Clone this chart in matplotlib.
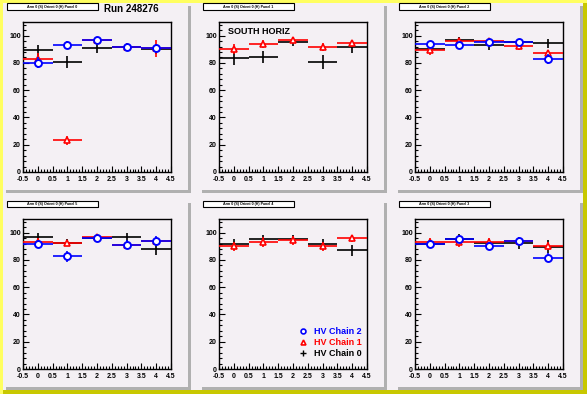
import matplotlib
matplotlib.use("Agg")
import matplotlib.pyplot as plt
from matplotlib.patches import Rectangle
from matplotlib.lines import Line2D
from matplotlib.ticker import MultipleLocator, FormatStrFormatter

plt.rcParams['font.family'] = ['Liberation Sans', 'DejaVu Sans']

# ---------------- data ----------------
bins = [0, 1, 2, 3, 4]
half_width = 0.5

panel_titles = ["Arm 0 (S) Orient 0 (H) Panel 0", "Arm 0 (S) Orient 0 (H) Panel 1",
                "Arm 0 (S) Orient 0 (H) Panel 2", "Arm 0 (S) Orient 0 (H) Panel 5",
                "Arm 0 (S) Orient 0 (H) Panel 4", "Arm 0 (S) Orient 0 (H) Panel 3"]

series_labels = ["HV Chain 0", "HV Chain 1", "HV Chain 2"]

# Panel 0
p0_ch0 = [89.3, 80.6, 90.8, 91.5, 90.1]
p0_err0 = [4.0, 4.5, 3.5, 3.0, 3.5]
p0_ch1 = [82.8, 23.2, 96.6, 91.5, 90.6]
p0_err1 = [4.5, 3.5, 1.5, 2.0, 6.0]
p0_ch2 = [80.1, 93.0, 96.6, 91.5, 90.6]
p0_err2 = [4.0, 3.0, 1.5, 2.0, 3.0]

# Panel 1
p1_ch0 = [83.5, 84.3, 95.2, 80.6, 91.5]
p1_err0 = [5.0, 4.5, 2.5, 5.0, 4.0]
p1_ch1 = [90.1, 93.7, 96.6, 91.5, 94.4]
p1_err1 = [3.5, 3.0, 2.0, 3.0, 2.5]

# Panel 2
p2_ch0 = [90.5, 96.6, 92.9, 95.1, 94.4]
p2_err0 = [2.5, 2.5, 3.5, 2.5, 3.5]
p2_ch1 = [89.3, 95.9, 95.9, 92.2, 87.1]
p2_err1 = [3.5, 2.5, 2.5, 3.0, 2.5]
p2_ch2 = [93.9, 92.9, 95.1, 95.1, 82.7]
p2_err2 = [2.5, 2.5, 2.5, 2.5, 3.5]

# Panel 5
p5_ch0 = [96.6, 92.7, 96.1, 96.6, 87.9]
p5_err0 = [3.0, 2.5, 2.0, 3.0, 4.0]
p5_ch1 = [93.0, 92.3, 96.6, 90.6, 93.7]
p5_err1 = [3.0, 2.0, 2.0, 2.5, 3.0]
p5_ch2 = [91.5, 82.8, 95.9, 91.3, 93.7]
p5_err2 = [3.0, 4.0, 2.0, 3.0, 3.5]

# Panel 4
p4_ch0 = [92.0, 95.6, 95.6, 92.0, 87.1]
p4_err0 = [3.5, 3.0, 3.0, 3.5, 4.0]
p4_ch1 = [90.0, 93.2, 94.4, 90.0, 95.9]
p4_err1 = [3.5, 3.5, 3.5, 3.5, 2.5]

# Panel 3
p3_ch0 = [92.0, 95.6, 92.7, 92.4, 89.8]
p3_err0 = [3.5, 3.5, 3.0, 4.5, 4.5]
p3_ch1 = [92.9, 93.2, 93.2, 93.7, 90.0]
p3_err1 = [3.0, 3.5, 3.0, 3.0, 3.0]
p3_ch2 = [91.5, 95.1, 90.0, 93.7, 81.7]
p3_err2 = [3.0, 3.0, 3.0, 3.0, 3.5]

panels = [
    [(p0_ch0, p0_err0), (p0_ch1, p0_err1), (p0_ch2, p0_err2)],
    [(p1_ch0, p1_err0), (p1_ch1, p1_err1), None],
    [(p2_ch0, p2_err0), (p2_ch1, p2_err1), (p2_ch2, p2_err2)],
    [(p5_ch0, p5_err0), (p5_ch1, p5_err1), (p5_ch2, p5_err2)],
    [(p4_ch0, p4_err0), (p4_ch1, p4_err1), None],
    [(p3_ch0, p3_err0), (p3_ch1, p3_err1), (p3_ch2, p3_err2)],
]

colors = ['black', 'red', 'blue']
markers = ['', '^', 'o']

# ---------------- layout ----------------
W, H = 587, 394
fig = plt.figure(figsize=(W / 100, H / 100), dpi=100)
fig.patch.set_facecolor('#ffff60')

def px_rect(x0, y0, w, h, **kw):
    r = Rectangle((x0 / W, 1 - (y0 + h) / H), w / W, h / H,
                  transform=fig.transFigure, **kw)
    fig.add_artist(r)
    return r

# canvas inner area + dark border side
px_rect(3, H - 4, W - 3, 4, facecolor='#c8c800', edgecolor='none', zorder=0)
px_rect(W - 4, 3, 4, H - 3, facecolor='#c8c800', edgecolor='none', zorder=0)
px_rect(3, 3, W - 7, H - 7, facecolor='#f4f0f4', edgecolor='none', zorder=0)

pad_x = [3, 199, 395]
pad_y = [3, 200]
pad_w, pad_h = 185, 187

for i in range(6):
    r, c = divmod(i, 3)
    x0, y0 = pad_x[c], pad_y[r]
    # pad shadow
    px_rect(x0 + 3, y0 + 3, pad_w, pad_h, facecolor='#b0b0b0', edgecolor='none', zorder=0.5)
    px_rect(x0, y0, pad_w, pad_h, facecolor='#f4f0f4', edgecolor='none', zorder=0.6)
    # title box
    px_rect(x0 + 5, y0 + 1.5, 91, 6, facecolor='#707070', edgecolor='none', zorder=0.7)
    px_rect(x0 + 4, y0 + 0.5, 91, 6, facecolor='white', edgecolor='black', linewidth=0.8, zorder=0.8)
    fig.text((x0 + 49.5) / W, 1 - (y0 + 3.6) / H, panel_titles[i], fontsize=2.6,
             fontweight='bold', ha='center', va='center', zorder=1)

    ax = fig.add_axes([(x0 + 20) / W, 1 - (y0 + 19 + 150) / H, 148 / W, 150 / H])
    ax.set_facecolor('#f4f0f4')
    ax.set_zorder(1)
    ax.set_xlim(-0.5, 4.5)
    ax.set_ylim(0, 110)
    ax.xaxis.set_major_locator(MultipleLocator(0.5))
    ax.xaxis.set_minor_locator(MultipleLocator(0.1))
    ax.yaxis.set_major_locator(MultipleLocator(20))
    ax.yaxis.set_minor_locator(MultipleLocator(4))
    ax.xaxis.set_major_formatter(FormatStrFormatter('%g'))
    ax.tick_params(which='both', direction='in', top=False, right=False,
                   labelsize=5, width=0.8)
    ax.tick_params(axis='x', which='major', pad=3.2)
    ax.tick_params(axis='y', which='major', pad=1.5)
    ax.tick_params(which='major', length=4)
    ax.tick_params(which='minor', length=2)
    for lab in ax.get_xticklabels() + ax.get_yticklabels():
        lab.set_fontweight('bold')
    for sp in ax.spines.values():
        sp.set_linewidth(1.0)

    for k, s in enumerate(panels[i]):
        if s is None:
            continue
        vals, errs = s
        ax.errorbar(bins, vals, xerr=half_width, yerr=errs, fmt='none',
                    ecolor=colors[k], elinewidth=1.2, capsize=0, zorder=2 + k)
        if markers[k]:
            ax.plot(bins, vals, linestyle='none', marker=markers[k],
                    markersize=5 if markers[k] == 'o' else 3.8,
                    markerfacecolor='white', markeredgecolor=colors[k],
                    markeredgewidth=1.4 if markers[k] == 'o' else 1.2, zorder=2.5 + k)

    if i == 0:
        fig.text(131 / W, 1 - 9 / H, "Run 248276", fontsize=7, fontweight='bold',
                 ha='center', va='center')
    if i == 1:
        ax.text(0.06, 0.935, "SOUTH HORIZ", transform=ax.transAxes, fontsize=6.5,
                fontweight='bold', ha='left', va='center')
    if i == 4:
        handles = [
            Line2D([], [], linestyle='none', marker='o', markersize=3.5,
                   markerfacecolor='white', markeredgecolor='blue', markeredgewidth=1.2),
            Line2D([], [], linestyle='none', marker='^', markersize=3.5,
                   markerfacecolor='white', markeredgecolor='red', markeredgewidth=1.2),
            Line2D([], [], linestyle='none', marker='+', markersize=4,
                   markeredgecolor='black', markeredgewidth=1.0),
        ]
        leg = ax.legend(handles, [series_labels[2], series_labels[1], series_labels[0]],
                        loc='lower left', bbox_to_anchor=(0.5, 0.03), frameon=False,
                        prop={'size': 6.5, 'weight': 'bold'}, handlelength=0.8,
                        handletextpad=0.8, labelspacing=0.25, borderpad=0.2)
        for t, col in zip(leg.get_texts(), ['blue', 'red', 'black']):
            t.set_color(col)

fig.savefig("out.png", dpi=100, facecolor=fig.get_facecolor())
